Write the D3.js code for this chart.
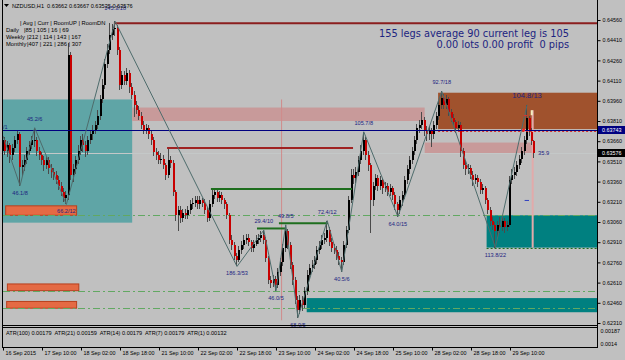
<!DOCTYPE html>
<html>
<head>
<meta charset="utf-8">
<script src="https://cdn.jsdelivr.net/npm/d3@7"></script>
<style>
  body { margin: 0; background: #c0c0c0; }
  text { font-family: "Liberation Sans", Arial, sans-serif; }
</style>
</head>
<body>
<script>
const W = 625, H = 360;

// NZDUSD H1, prices in pips (6374 -> 0.6374), open of a bar = previous close
const open0 = 6359;
const closes = [
  6367,6359,6363,6356,6361,6367,6371,6347,6348,6352,
  6359,6363,6367,6367,6359,6356,6352,6348,6352,6346,
  6343,6341,6337,6333,6328,6324,6326,6430,6341,6345,
  6352,6359,6367,6363,6359,6367,6371,6374,6378,6385,
  6397,6408,6423,6434,6445,6449,6450,6434,6408,6415,
  6411,6417,6406,6400,6393,6389,6385,6378,6374,6376,
  6371,6367,6358,6356,6352,6353,6348,6341,6352,6350,
  6328,6311,6315,6309,6313,6311,6315,6319,6320,6322,
  6319,6322,6320,6315,6309,6319,6326,6328,6324,6326,
  6322,6319,6311,6293,6289,6281,6278,6285,6289,6293,
  6294,6291,6287,6290,6293,6294,6296,6293,6279,6263,
  6261,6264,6259,6269,6276,6287,6299,6289,6274,6263,
  6248,6241,6248,6244,6255,6267,6272,6274,6278,6285,
  6289,6293,6294,6300,6291,6287,6285,6281,6278,6276,
  6289,6300,6322,6341,6339,6343,6352,6359,6367,6356,
  6348,6322,6333,6339,6333,6337,6331,6333,6328,6331,
  6326,6319,6315,6322,6326,6337,6345,6352,6359,6367,
  6376,6378,6382,6374,6371,6374,6371,6378,6385,6393,
  6398,6393,6397,6388,6383,6380,6376,6378,6359,6348,
  6345,6346,6341,6337,6339,6336,6330,6331,6322,6315,
  6307,6304,6299,6304,6302,6307,6302,6304,6337,6341,
  6343,6348,6353,6359,6367,6383,6373,6366.2,6357.6
];
const highs = [
  6370,6369,6366,6365,6364,6370,6374,6373,6352,6356,
  6362,6366,6370,6376,6369,6362,6358,6355,6355,6354,
  6349,6346,6344,6340,6336,6331,6329,6439,6432,6349,
  6355,6363,6370,6371,6366,6370,6374,6378,6381,6389,
  6400,6412,6427,6438,6454,6453,6455,6452,6436,6418,
  6418,6420,6419,6409,6403,6396,6392,6388,6381,6379,
  6378,6374,6369,6361,6359,6357,6356,6350,6361,6355,
  6352,6330,6318,6318,6316,6316,6318,6322,6324,6325,
  6325,6325,6324,6323,6317,6322,6331,6331,6330,6329,
  6328,6324,6321,6313,6296,6291,6283,6288,6292,6296,
  6297,6297,6293,6293,6296,6297,6299,6300,6295,6281,
  6266,6267,6266,6272,6279,6290,6304,6301,6291,6276,
  6265,6251,6252,6251,6258,6270,6275,6278,6281,6288,
  6292,6296,6298,6307,6302,6294,6290,6288,6284,6280,
  6292,6303,6325,6345,6345,6347,6355,6363,6373,6369,
  6359,6350,6336,6342,6341,6340,6339,6336,6335,6334,
  6333,6328,6321,6325,6329,6340,6348,6355,6362,6370,
  6379,6382,6388,6384,6377,6377,6376,6381,6388,6396,
  6403,6401,6400,6399,6390,6386,6382,6381,6380,6361,
  6351,6349,6348,6344,6342,6341,6338,6334,6333,6324,
  6317,6310,6306,6307,6310,6310,6309,6307,6340,6345,
  6347,6351,6356,6362,6370,6393,6385,6376,6366.7
];
const lows = [
  6356,6356,6354,6350,6352,6358,6364,6333,6340,6344,
  6349,6356,6360,6362,6355,6352,6348,6344,6345,6342,
  6339,6337,6334,6330,6325,6321,6319,6322,6337,6336,
  6342,6349,6356,6358,6354,6356,6364,6367,6371,6375,
  6382,6394,6405,6420,6431,6441,6444,6430,6404,6405,
  6408,6408,6402,6397,6384,6386,6382,6375,6371,6371,
  6368,6363,6355,6352,6349,6349,6345,6337,6339,6346,
  6325,6307,6299,6305,6306,6308,6308,6312,6316,6317,
  6316,6316,6317,6312,6306,6307,6317,6323,6321,6321,
  6319,6316,6308,6290,6285,6278,6273,6276,6282,6286,
  6290,6288,6284,6284,6288,6290,6291,6290,6276,6260,
  6257,6258,6255,6257,6266,6273,6284,6286,6271,6259,
  6245,6235,6238,6240,6242,6252,6264,6269,6271,6275,
  6282,6286,6290,6291,6288,6284,6282,6278,6274,6269,
  6274,6287,6298,6320,6334,6335,6340,6349,6356,6352,
  6344,6298,6318,6330,6329,6330,6327,6328,6325,6325,
  6322,6315,6310,6312,6318,6323,6334,6342,6349,6356,
  6364,6372,6375,6370,6366,6367,6362,6368,6375,6382,
  6390,6390,6390,6385,6380,6377,6372,6373,6354,6345,
  6341,6342,6338,6333,6334,6332,6327,6327,6319,6312,
  6303,6300,6287,6295,6298,6299,6298,6299,6302,6334,
  6338,6340,6345,6350,6356,6364,6370,6363,6353.5
];

// zigzag pivots: [bar, price in pips, label]
const pivots = [
  [0, 6370, "/1"], [7, 6333, "46.1/8"], [13, 6376, "45.2/6"], [26, 6319, "66.2/12"],
  [46, 6455, "145.3/18"], [96, 6273, "186.3/53"], [107, 6300, "29.4/10"], [112, 6255, "46.0/5"],
  [116, 6304, "49.8/5"], [121, 6235, "68.9/5"], [133, 6307, "72.4/12"], [139, 6269, "40.5/6"],
  [148, 6373, "105.7/8"], [162, 6310, "64.0/15"], [180, 6403, "92.7/18"], [202, 6287, "113.8/22"],
  [215, 6393, "104.8/13"]
];

const timeBars = [0, 16, 32, 48, 64, 80, 96, 112, 128, 144, 160, 176, 192, 208];
const timeLabels = ["16 Sep 2015", "17 Sep 10:00", "18 Sep 02:00", "18 Sep 18:00", "21 Sep 10:00",
  "22 Sep 02:00", "22 Sep 18:00", "23 Sep 10:00", "24 Sep 02:00", "24 Sep 18:00", "25 Sep 10:00",
  "28 Sep 02:00", "28 Sep 18:00", "29 Sep 10:00"];
const priceTicks = [0.64560, 0.64410, 0.64260, 0.64110, 0.63960, 0.63810, 0.63660, 0.63510,
  0.63360, 0.63210, 0.63060, 0.62910, 0.62760, 0.62610, 0.62460, 0.62310];
const atrTicks = [0.00187, 0.0014];
const atrNames = ["ATR(100)", "ATR(21)", "ATR(14)", "ATR(7)", "ATR(1)"];
const atrValues = ["0.00179", "0.00159", "0.00179", "0.00179", "0.00132"];

// rectangles: bars from/to, prices (pips) top/bottom
const zones = [
  { kind: "cadet", b0: -3, b1: 53, top: 6397, bot: 6305.5 },
  { kind: "pink", b0: 53, b1: 173, top: 6391, bot: 6381 },
  { kind: "pink", b0: 173, b1: 217.5, top: 6365, bot: 6357 },
  { kind: "brown", b0: 178.5, b1: 260, top: 6402, bot: 6375 },
  { kind: "teal", b0: 198.4, b1: 260, top: 6311, bot: 6287 },
  { kind: "teal", b0: 124.6, b1: 260, top: 6249.5, bot: 6239 },
  { kind: "orange", b0: 1.1, b1: 30.2, top: 6318, bot: 6311 },
  { kind: "orange", b0: 1.8, b1: 31.1, top: 6260, bot: 6255 },
  { kind: "orange", b0: 1.5, b1: 30.2, top: 6247, bot: 6242 }
];
// level segments: price, from bar, to bar
const levels = [
  { kind: "darkred", p: 6453.5, b0: 45.5, b1: 260 },
  { kind: "red", p: 6361, b0: 67.3, b1: 143.6 },
  { kind: "green", p: 6330.5, b0: 85.3, b1: 143.2 },
  { kind: "green", p: 6301.2, b0: 104.2, b1: 116 },
  { kind: "green", p: 6305, b0: 113.2, b1: 133.3 }
];
const dashLevels = [6311.5, 6254.5, 6242];
const blueLevel = 0.63743;
const legStats = ["155 legs average 90 current leg is 105", "0.00 lots 0.00 profit  0 pips"];
const ohlcTitle = "NZDUSD,H1  0.63662 0.63667 0.63535 0.63576";
const rangeRows = [
  ["", "| Avg | Curr | RoomUP | RoomDN"],
  ["Daily", "|85 | 105 | 16 | 69"],
  ["Weekly", "|212 | 114 | 143 | 167"],
  ["Monthly", "|407 | 221 | 286 | 307"]
];

const zoneFill = { cadet: "#5fa5a6", pink: "#c89a9a", brown: "#a0522d", teal: "#008080", orange: "#e46a44" };
const levelColor = { darkred: "#8b1e1e", red: "#a02222", green: "#1e6e1e" };
const navy = "#1c2480";

const svg = d3.select('body').append('svg')
  .attr('width', W).attr('height', H).style('display', 'block');
svg.append('rect').attr('width', W).attr('height', H).attr('fill', '#c0c0c0');

const x = d3.scaleLinear().domain([0, 208]).range([3, 510]);
const y = d3.scaleLinear().domain([0.62310, 0.64560]).range([323, 20]);
const py = p => y(p / 10000);

svg.append('clipPath').attr('id', 'plot')
  .append('rect').attr('x', 3).attr('y', 0).attr('width', 594).attr('height', 325);
const g = svg.append('g').attr('clip-path', 'url(#plot)');

// rectangles
g.selectAll('rect.zone').data(zones).enter().append('rect')
  .attr('class', 'zone')
  .attr('x', d => x(d.b0)).attr('width', d => x(d.b1) - x(d.b0))
  .attr('y', d => py(d.top)).attr('height', d => py(d.bot) - py(d.top))
  .attr('fill', d => zoneFill[d.kind])
  .attr('stroke', d => d.kind === 'orange' ? '#b8401e' : 'none')
  .attr('stroke-width', 1);

// dash-dot levels
g.selectAll('line.dash').data(dashLevels).enter().append('line')
  .attr('x1', 3).attr('x2', 597)
  .attr('y1', d => Math.round(py(d)) + 0.5).attr('y2', d => Math.round(py(d)) + 0.5)
  .attr('stroke', '#62a862').attr('stroke-dasharray', '7,3,2,3');
// dotted edge under the right teal box
g.append('line').attr('x1', x(198.4)).attr('x2', 597)
  .attr('y1', Math.round(py(6287)) + 0.5).attr('y2', Math.round(py(6287)) + 0.5)
  .attr('stroke', '#1e6e1e').attr('stroke-dasharray', '2,2');

// bid line (grey, only shows up over the coloured zone)
const last = closes.length - 1;
g.append('line').attr('x1', 3).attr('x2', 597)
  .attr('y1', Math.round(py(closes[last])) + 0.5).attr('y2', Math.round(py(closes[last])) + 0.5)
  .attr('stroke', '#c4c8c8');

// vertical markers
g.append('line').attr('x1', x(114.3)).attr('x2', x(114.3))
  .attr('y1', py(6397)).attr('y2', py(6233)).attr('stroke', '#d08a8a');
g.append('line').attr('x1', x(217.3)).attr('x2', x(217.3))
  .attr('y1', py(6389)).attr('y2', py(6287)).attr('stroke', '#e2aaaa').attr('stroke-width', 2);

// candles
const bars = closes.map((c, i) => ({ i, o: i ? closes[i - 1] : open0, c, h: highs[i], l: lows[i] }));
const cg = g.append('g').attr('shape-rendering', 'crispEdges');
cg.selectAll('rect.wick').data(bars).enter().append('rect')
  .attr('x', d => Math.round(x(d.i)) - 1).attr('width', 1)
  .attr('y', d => py(d.h)).attr('height', d => Math.max(1, py(d.l) - py(d.h)))
  .attr('fill', '#4a4a4a');
cg.selectAll('rect.body').data(bars).enter().append('rect')
  .attr('x', d => Math.round(x(d.i)) - 1).attr('width', 2)
  .attr('y', d => py(Math.max(d.o, d.c)))
  .attr('height', d => Math.max(1, Math.abs(py(d.o) - py(d.c))))
  .attr('fill', d => d.c >= d.o ? '#000000' : '#c80000');

// level segments
g.selectAll('line.level').data(levels).enter().append('line')
  .attr('x1', d => x(d.b0)).attr('x2', d => x(d.b1))
  .attr('y1', d => py(d.p)).attr('y2', d => py(d.p))
  .attr('stroke', d => levelColor[d.kind]).attr('stroke-width', 2);

// blue level with dotted red overlay on the right part
g.append('line').attr('x1', 3).attr('x2', 597)
  .attr('y1', Math.round(y(blueLevel)) + 0.5).attr('y2', Math.round(y(blueLevel)) + 0.5)
  .attr('stroke', '#000080');
g.append('line').attr('x1', x(178.5)).attr('x2', 597)
  .attr('y1', Math.round(y(blueLevel)) + 1.5).attr('y2', Math.round(y(blueLevel)) + 1.5)
  .attr('stroke', '#d03030').attr('stroke-dasharray', '2,2');

// zigzag
const zz = d3.line().x(d => x(d[0])).y(d => py(d[1]));
g.append('path').attr('d', zz(pivots))
  .attr('fill', 'none').attr('stroke', '#4e6c6c').attr('stroke-width', 1);

// small markers at the current leg
g.append('circle').attr('cx', x(213.6)).attr('cy', y(blueLevel)).attr('r', 1.6).attr('fill', '#ff2020');
g.append('rect').attr('x', x(216.5)).attr('y', py(6389)).attr('width', 2).attr('height', 5).attr('fill', '#f4f0c0');
g.append('line').attr('x1', x(213.6)).attr('x2', x(215.2)).attr('y1', py(6385)).attr('y2', py(6385)).attr('stroke', '#e03030');
g.append('line').attr('x1', x(214)).attr('x2', x(215.8)).attr('y1', py(6322)).attr('y2', py(6322)).attr('stroke', '#3040c0');

// pivot labels
svg.selectAll('text.piv').data(pivots).enter().append('text')
  .attr('x', d => x(d[0]))
  .attr('y', (d, i) => {
    const nb = pivots[i + 1] || pivots[i - 1];
    if (i === 4) return 10;
    return d[1] > nb[1] ? py(d[1]) - 7 : py(d[1]) + 9;
  })
  .attr('text-anchor', (d, i) => i === 0 ? 'start' : 'middle')
  .attr('font-size', (d, i) => i === pivots.length - 1 ? 7.6 : 5.6)
  .attr('fill', navy)
  .text(d => d[2]);
svg.append('text').attr('x', x(219.5)).attr('y', py(6356))
  .attr('font-size', 5.8).attr('fill', navy).text('35.9');

// leg statistics
svg.selectAll('text.stat').data(legStats).enter().append('text')
  .attr('x', 569).attr('y', (d, i) => 37 + i * 10.5)
  .attr('text-anchor', 'end').attr('font-size', 9.8)
  .style('font-family', '"DejaVu Sans", Verdana, sans-serif')
  .style('white-space', 'pre').attr('fill', navy)
  .text(d => d);

// range table
const tbl = svg.append('g').attr('font-size', 5.8).attr('fill', '#000');
rangeRows.forEach((r, i) => {
  const yy = 24.5 + i * 7.3;
  tbl.append('text').attr('x', 6).attr('y', yy).text(r[0]);
  tbl.append('text').attr('x', i === 0 ? 20 : (i === 1 ? 24 : 27)).attr('y', yy)
    .style('white-space', 'pre').text(r[1]);
});

// title
svg.append('path').attr('d', 'M4,4 L9,4 L6.5,7 Z').attr('fill', '#000');
svg.append('text').attr('x', 12).attr('y', 8).attr('font-size', 5.6)
  .style('white-space', 'pre').text(ohlcTitle);

// frames
const frame = svg.append('g').attr('stroke', '#000').attr('shape-rendering', 'crispEdges');
frame.append('line').attr('x1', 2.5).attr('x2', 2.5).attr('y1', 0).attr('y2', 347.5);
frame.append('line').attr('x1', 597.5).attr('x2', 597.5).attr('y1', 0).attr('y2', 347.5);
frame.append('line').attr('x1', 2.5).attr('x2', 597.5).attr('y1', 325.5).attr('y2', 325.5);
frame.append('line').attr('x1', 2.5).attr('x2', 597.5).attr('y1', 327.5).attr('y2', 327.5);
frame.append('line').attr('x1', 2.5).attr('x2', 597.5).attr('y1', 347.5).attr('y2', 347.5);

// price axis
const ya = svg.append('g').attr('transform', 'translate(597.5,0)')
  .call(d3.axisRight(y).tickValues(priceTicks).tickSize(3).tickFormat(d3.format('.5f')));
ya.select('.domain').remove();
ya.selectAll('text').attr('font-size', 5.4).attr('fill', '#000').attr('x', 5);

// price boxes
const boxes = [[blueLevel, '#000080'], [closes[last] / 10000, '#000000']];
boxes.forEach(b => {
  svg.append('rect').attr('x', 598).attr('y', Math.round(y(b[0])) - 4).attr('width', 27).attr('height', 8).attr('fill', b[1]);
  svg.append('text').attr('x', 602).attr('y', Math.round(y(b[0])) + 2).attr('font-size', 5.4)
    .attr('fill', '#fff').text(d3.format('.5f')(b[0]));
});

// ATR subwindow
const ys = d3.scaleLinear().domain([0.0014, 0.00187]).range([343.5, 331]);
const sa = svg.append('g').attr('transform', 'translate(597.5,0)')
  .call(d3.axisRight(ys).tickValues(atrTicks).tickSize(0).tickFormat(d => String(d)));
sa.select('.domain').remove();
sa.selectAll('text').attr('font-size', 5.4).attr('fill', '#000').attr('x', 3);
svg.append('text').attr('x', 6).attr('y', 335).attr('font-size', 5.6)
  .style('white-space', 'pre')
  .text(atrNames.map((n, i) => n + ' ' + atrValues[i]).join('  '));

// time axis
const xa = svg.append('g').attr('transform', 'translate(0,347.5)')
  .call(d3.axisBottom(x).tickValues(timeBars).tickSize(3).tickFormat((d, i) => timeLabels[i]));
xa.select('.domain').remove();
xa.selectAll('text').attr('font-size', 5.4).attr('fill', '#000')
  .attr('text-anchor', 'start').attr('x', 2).attr('y', 3.5);
</script>
</body>
</html>
